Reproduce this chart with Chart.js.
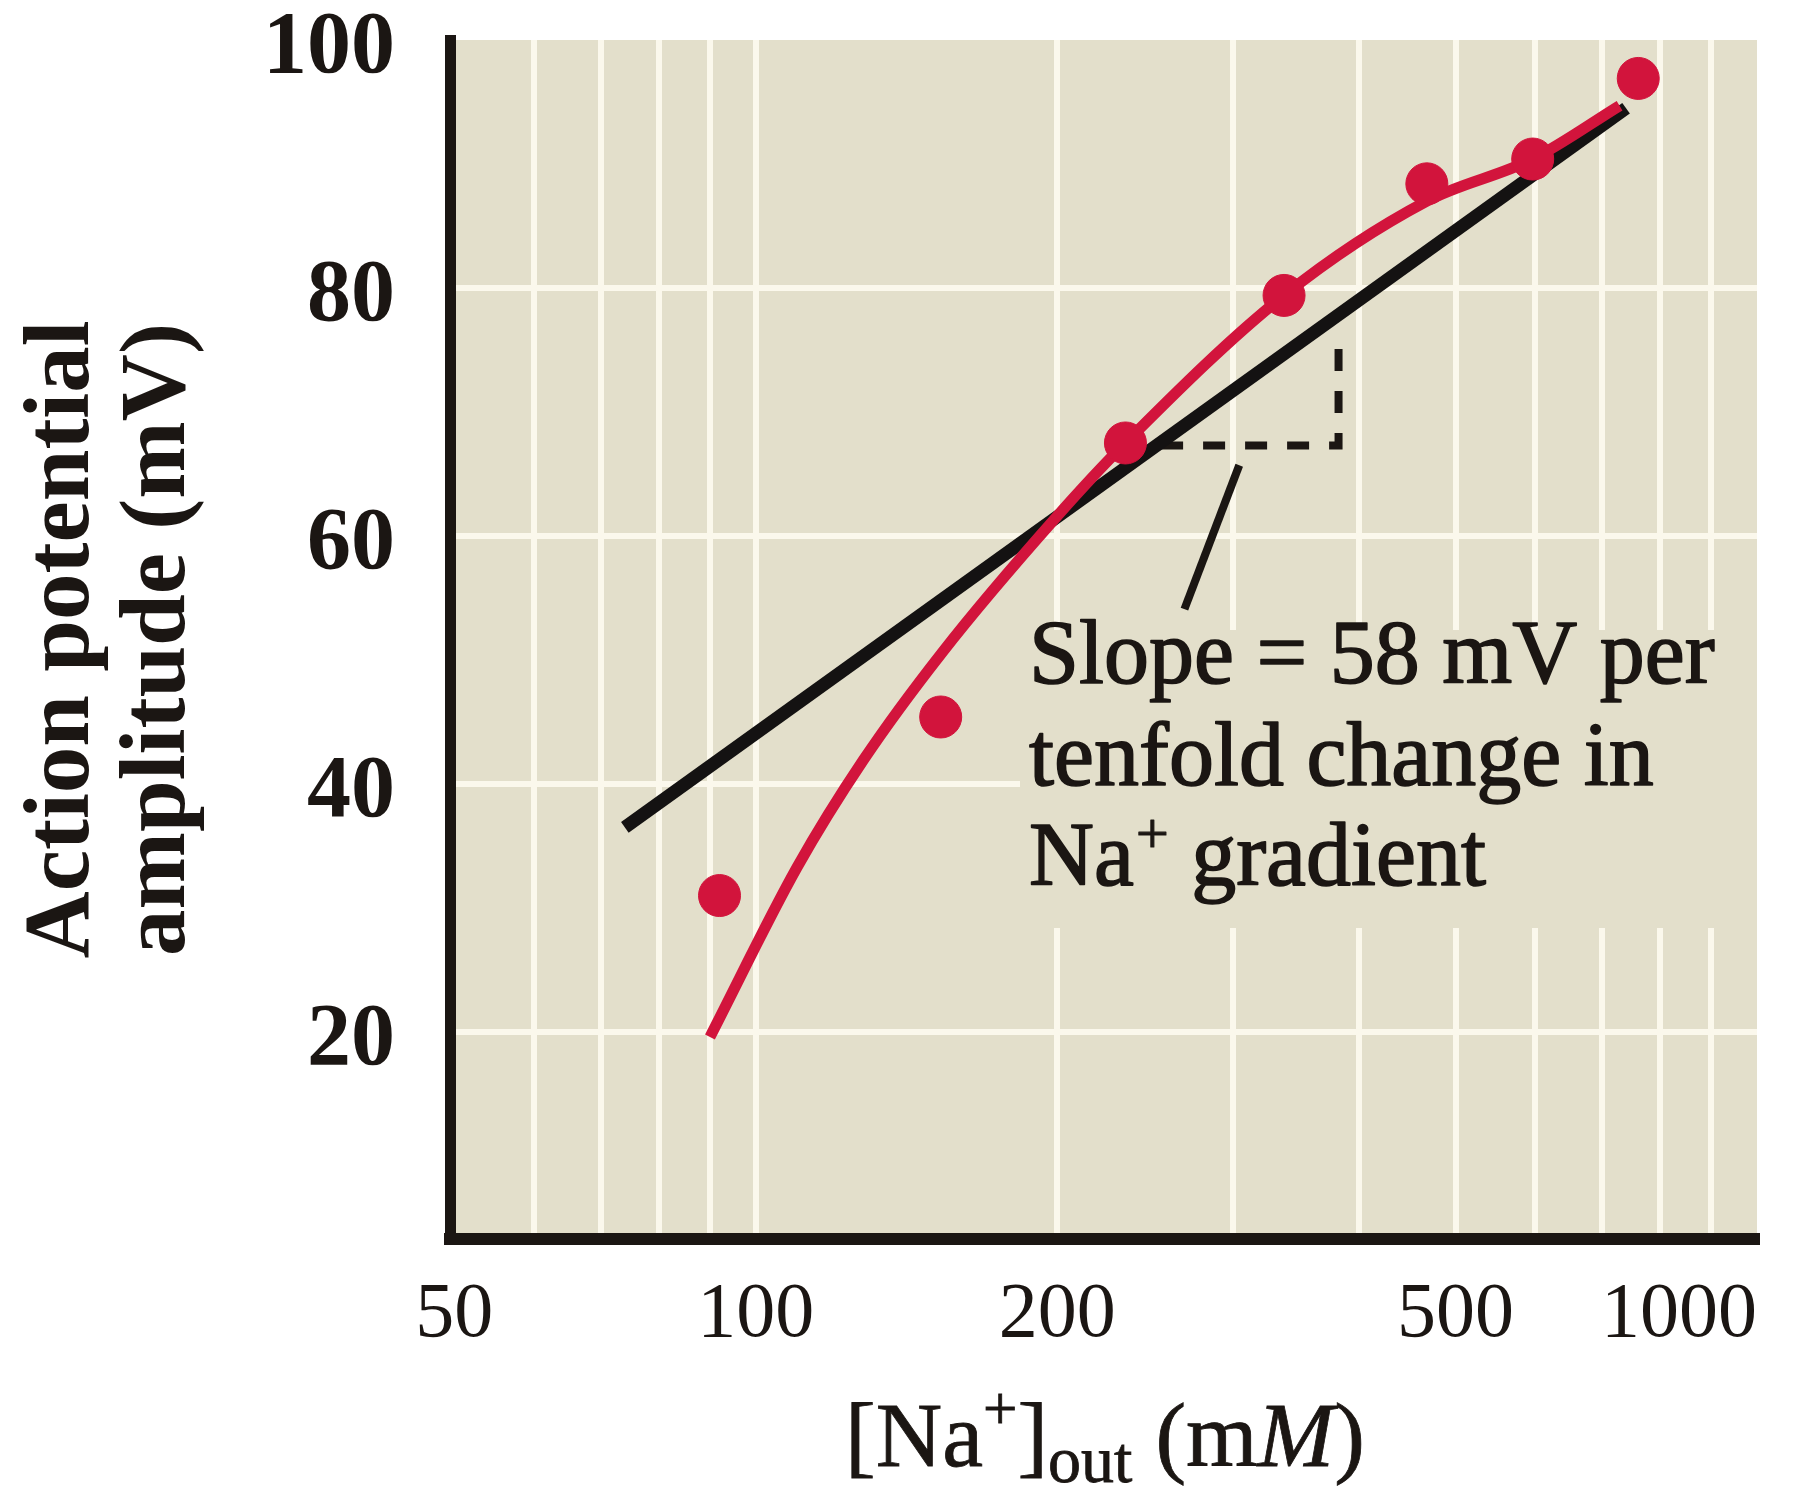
<!DOCTYPE html>
<html>
<head>
<meta charset="utf-8">
<script src="https://cdn.jsdelivr.net/npm/chart.js@4.4.1/dist/chart.umd.min.js"></script>
<style>
  html, body { margin: 0; padding: 0; background: #ffffff; }
  canvas { display: block; }
</style>
</head>
<body>
<canvas id="c" width="1802" height="1491"></canvas>
<script>
// ---------- data ----------
const xMin = 49.5, xMax = 1000;
const xTickValues = [49.5, 50, 60, 70, 80, 90, 100, 200, 300, 400, 500, 600, 700, 800, 900, 1000];
const xTickLabels = { 50: '50', 100: '100', 200: '200', 500: '500', 1000: '1000' };
const yTickValues = [20, 40, 60, 80, 100];

// measured points: [Na+]out (mM) vs action potential amplitude (mV)
const naOut = [92, 153, 234, 337, 468, 597, 761];
const amplitude = [31, 45.4, 67.5, 79.4, 88.4, 90.4, 96.9];

// red fitted curve
const fitNa = [90, 110, 128, 153.5, 199, 234, 337, 468, 597, 729];
const fitAmp = [19.6, 33.3, 41.9, 50.6, 61.4, 67.5, 79.4, 87.0, 90.4, 94.7];

// black Nernst line (58 mV per decade), its two ends
const slopeNa = [74, 740];
const slopeAmp = [36.5, 94.5];

// dashed slope triangle and the leader line to the note
const triNa = [254, 382, 382];
const triAmp = [67.3, 67.3, 76.6];
const leaderNa = [268, 304];
const leaderAmp = [54.1, 65.7];

// ---------- styles ----------
const RED = '#d2143c';
const INK = '#1b1613';
const BEIGE = '#e3dfcb';
const GRID = '#fbf8ec';
const SERIF = '"Liberation Serif", "Times New Roman", serif';

const toPts = (xs, ys) => xs.map((x, i) => ({ x: x, y: ys[i] }));

const bgPlugin = {
  id: 'plotBg',
  beforeDraw(chart) {
    const { ctx, chartArea: a } = chart;
    ctx.save();
    ctx.fillStyle = BEIGE;
    ctx.fillRect(a.left, a.top, a.right - a.left, a.bottom - a.top);
    ctx.restore();
  }
};

function heavyText(ctx, t, x, y, w) {
  ctx.fillText(t, x, y);
  ctx.lineWidth = w;
  ctx.strokeText(t, x, y);
}

const notePlugin = {
  id: 'note',
  beforeDatasetsDraw(chart) {
    // the note sits on a plain patch that hides the grid
    const { ctx, chartArea: a } = chart;
    ctx.save();
    ctx.fillStyle = BEIGE;
    ctx.fillRect(1020, 630, a.right - 1020, 298);
    ctx.restore();
  },
  afterDatasetsDraw(chart) {
    const ctx = chart.ctx;
    const f = 90;
    ctx.save();
    ctx.fillStyle = INK;
    ctx.strokeStyle = INK;
    ctx.lineJoin = 'round';
    ctx.textAlign = 'left';
    ctx.textBaseline = 'alphabetic';
    ctx.font = f + 'px ' + SERIF;
    const x0 = 1029;
    heavyText(ctx, 'Slope = 58 mV per', x0, 683, 1.6);
    heavyText(ctx, 'tenfold change in', x0, 785, 1.6);
    let x = x0;
    heavyText(ctx, 'Na', x, 885, 1.6);
    x += ctx.measureText('Na').width + 2;
    ctx.font = Math.round(f * 0.64) + 'px ' + SERIF;
    heavyText(ctx, '+', x, 885 - f * 0.36, 1.2);
    x += ctx.measureText('+').width;
    ctx.font = f + 'px ' + SERIF;
    x += ctx.measureText(' ').width;
    heavyText(ctx, 'gradient', x, 885, 1.6);
    ctx.restore();
  },
  afterDraw(chart) {
    // x-axis title with superscript/subscript and italic M
    const ctx = chart.ctx;
    const f = 92, fs = Math.round(f * 0.72);
    const base = 1466;
    const pieces = [
      { t: '[Na', font: f + 'px ' + SERIF, dy: 0 },
      { t: '+', font: Math.round(f * 0.66) + 'px ' + SERIF, dy: -f * 0.40 },
      { t: ']', font: f + 'px ' + SERIF, dy: 0 },
      { t: 'out', font: fs + 'px ' + SERIF, dy: f * 0.17 },
      { t: ' (m', font: f + 'px ' + SERIF, dy: 0 },
      { t: 'M', font: 'italic ' + f + 'px ' + SERIF, dy: 0 },
      { t: ')', font: f + 'px ' + SERIF, dy: 0 }
    ];
    ctx.save();
    ctx.fillStyle = INK;
    ctx.strokeStyle = INK;
    ctx.textAlign = 'left';
    ctx.textBaseline = 'alphabetic';
    let total = 0;
    pieces.forEach(p => { ctx.font = p.font; p.w = ctx.measureText(p.t).width; total += p.w; });
    let x = 1105 - total / 2;
    pieces.forEach(p => { ctx.font = p.font; heavyText(ctx, p.t, x, base + p.dy, 0.8); x += p.w; });
    ctx.restore();
  }
};

const gridColor = (ctx, skip) => (ctx.tick && skip.includes(ctx.tick.value)) ? 'rgba(0,0,0,0)' : GRID;

new Chart(document.getElementById('c'), {
  type: 'scatter',
  data: {
    datasets: [
      { label: 'Measured', data: toPts(naOut, amplitude), showLine: false,
        pointRadius: 21, pointHoverRadius: 21, pointBackgroundColor: RED, pointBorderColor: RED, pointBorderWidth: 1 },
      { label: 'Fit', data: toPts(fitNa, fitAmp), showLine: true, borderColor: RED, borderWidth: 11,
        pointRadius: 0, cubicInterpolationMode: 'monotone', borderCapStyle: 'butt' },
      { label: 'Nernst slope', data: toPts(slopeNa, slopeAmp), showLine: true, borderColor: '#141212', borderWidth: 13,
        pointRadius: 0, borderCapStyle: 'butt' },
      { label: 'Triangle', data: toPts(triNa, triAmp), showLine: true, borderColor: INK, borderWidth: 8,
        borderDash: [22, 20], pointRadius: 0, borderJoinStyle: 'miter' },
      { label: 'Leader', data: toPts(leaderNa, leaderAmp), showLine: true, borderColor: INK, borderWidth: 8,
        pointRadius: 0 }
    ]
  },
  options: {
    responsive: false,
    animation: false,
    events: [],
    layout: { padding: { top: 40, right: 0, bottom: 0, left: 0 } },
    plugins: { legend: { display: false }, tooltip: { enabled: false } },
    scales: {
      x: {
        type: 'logarithmic',
        min: xMin, max: xMax,
        afterBuildTicks: s => { s.ticks = xTickValues.map(v => ({ value: v })); },
        afterFit: s => { s.height = 252; s.paddingLeft = 0; s.paddingRight = 45; },
        grid: { color: c => gridColor(c, [49.5, 50, 1000]), lineWidth: 6, drawTicks: false },
        border: { color: INK, width: 12 },
        ticks: {
          autoSkip: false, maxRotation: 0, minRotation: 0, padding: 30, color: INK,
          align: 'inner',
          font: { family: SERIF, size: 78 },
          callback: v => (xTickLabels[v] !== undefined ? xTickLabels[v] : '')
        }
      },
      y: {
        type: 'linear',
        min: 3.3, max: 100,
        afterBuildTicks: s => { s.ticks = yTickValues.map(v => ({ value: v })); },
        afterFit: s => { s.width = 450; s.paddingTop = 0; s.paddingBottom = 0; },
        grid: { color: c => gridColor(c, [100]), lineWidth: 6, drawTicks: false },
        border: { color: INK, width: 11 },
        ticks: {
          padding: 55, color: INK, labelOffset: 9,
          font: { family: SERIF, size: 88, weight: 'bold' }
        },
        title: {
          display: true,
          text: ['Action potential', 'amplitude (mV)'],
          color: INK,
          font: { family: SERIF, size: 93, weight: 'bold', lineHeight: 1.03 },
          padding: { top: 16, bottom: 0 }
        }
      }
    }
  },
  plugins: [bgPlugin, notePlugin]
});
</script>
</body>
</html>
